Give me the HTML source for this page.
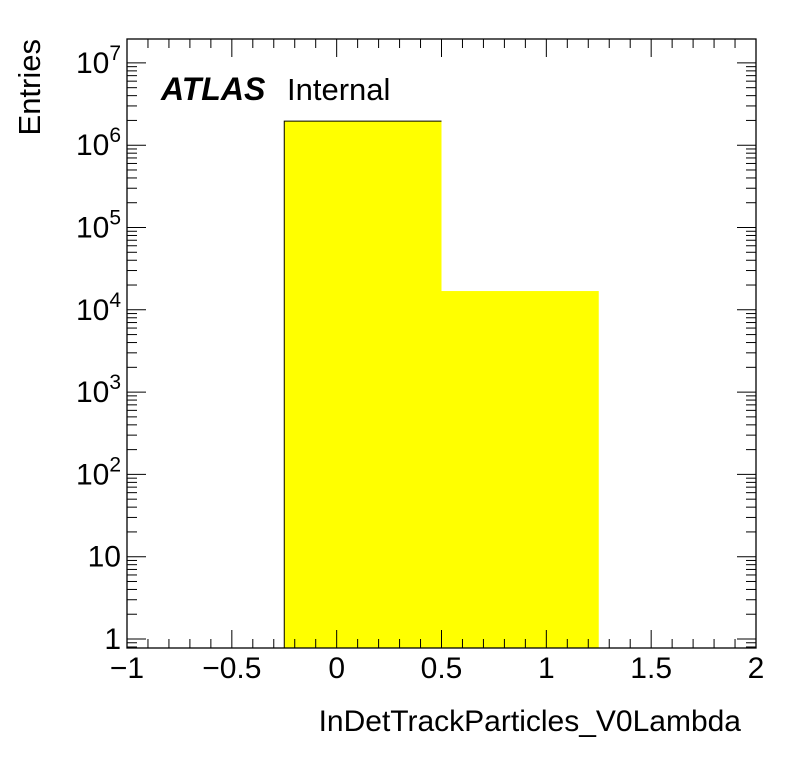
<!DOCTYPE html>
<html><head><meta charset="utf-8"><style>
html,body{margin:0;padding:0;background:#fff;}
svg{display:block;font-family:"Liberation Sans",sans-serif;}
</style></head><body>
<svg id="chart" width="796" height="772" viewBox="0 0 796 772"></svg>
<script>
const binEdges=[-1,-0.25,0.5,1.25,2];
const binValues=[0,1.96e6,1.69e4,0];
const xTicks=[-1,-0.5,0,0.5,1,1.5,2];
const xTickLabels=["\u22121","\u22120.5","0","0.5","1","1.5","2"];
const yDecades=[0,1,2,3,4,5,6,7];
const yTickLabels=["1","10","10^2","10^3","10^4","10^5","10^6","10^7"];

const L=127,R=756,T=39,B=648;
const xMin=-1,xMax=2;
const y1=639,dec=82.3;
const X=v=>L+(v-xMin)/(xMax-xMin)*(R-L);
const Y=v=>y1-Math.log10(v)*dec;
const svg=document.getElementById('chart');
const NS='http://www.w3.org/2000/svg';
function mk(tag,attrs,parent){const e=document.createElementNS(NS,tag);for(const k in attrs)e.setAttribute(k,attrs[k]);(parent||svg).appendChild(e);return e;}

// bars (fill) and outline
let d='';let started=false;
for(let i=0;i<binValues.length;i++){
  if(binValues[i]<=0)continue;
  const x0=X(binEdges[i]),x1=X(binEdges[i+1]),yt=Y(binValues[i]);
  const r=mk('rect',{x:x0,y:yt,width:x1-x0,height:B-yt,fill:'#ffff00',stroke:'none'});
  
  
  if(!started){d+='M'+x0+','+B+' L'+x0+','+yt;started=true;}
  else d+=' L'+x0+','+yt;
  d+=' L'+x1+','+yt;
  d+='|'+x1;
}
// build outline path
const parts=d.split('|');let path=parts.slice(0,-1).join('');
const lastX=parts[parts.length-1];
path+=' L'+lastX+','+B;
const ol=mk('path',{d:path.replace(/\|[\d.]+/g,''),fill:'none',stroke:'#000','stroke-width':1});


// frame
const fr=mk('rect',{x:L,y:T,width:R-L,height:B-T,fill:'none',stroke:'#000','stroke-width':1.3});



const tg=mk('g',{stroke:'#000','stroke-width':1});


for(let k=0;k<=30;k++){
  const v=xMin+k*0.1,x=X(v);
  const len=(k%5===0)?18:9;
  mk('line',{x1:x,y1:B,x2:x,y2:B-len},tg);
  mk('line',{x1:x,y1:T,x2:x,y2:T+len},tg);
}
const yLo=Math.pow(10,(y1-B)/dec),yHi=Math.pow(10,(y1-T)/dec);
for(let dd=-1;dd<=8;dd++){
  for(let m=1;m<=9;m++){
    const v=m*Math.pow(10,dd);
    if(v<yLo||v>yHi)continue;
    const y=Y(v),len=m===1?19:10;
    mk('line',{x1:L,y1:y,x2:L+len,y2:y},tg);
    mk('line',{x1:R,y1:y,x2:R-len,y2:y},tg);
  }
}
xTicks.forEach((v,i)=>{
  const t=mk('text',{x:X(v),y:678,'font-size':30,'text-anchor':'middle',fill:'#000'});
  t.textContent=xTickLabels[i];
  
  
});
yDecades.forEach((dd,i)=>{
  const y=Y(Math.pow(10,dd))+10;
  const lab=yTickLabels[i];
  const t=mk('text',{x:121,y:y,'font-size':30,'text-anchor':'end',fill:'#000'});
  
  
  if(lab.indexOf('^')>=0){
    const [b,e]=lab.split('^');
    const s1=mk('tspan',{},t);s1.textContent=b;
    const s2=mk('tspan',{dy:-13,'font-size':21},t);s2.textContent=e;
  }else t.textContent=lab;
});
const xt=mk('text',{x:741,y:731,'font-size':30,'text-anchor':'end',fill:'#000'});
xt.textContent='InDetTrackParticles_V0Lambda';


const yt=mk('text',{x:0,y:0,'font-size':31,'text-anchor':'end',fill:'#000',transform:'translate(40,39) rotate(-90)'});
yt.textContent='Entries';


const at=mk('text',{x:161,y:100,'font-size':32,'font-weight':'bold','font-style':'italic',fill:'#000'});
at.textContent='ATLAS';


const it=mk('text',{x:287,y:100,'font-size':31,fill:'#000'});
it.textContent='Internal';


</script>
</body></html>
